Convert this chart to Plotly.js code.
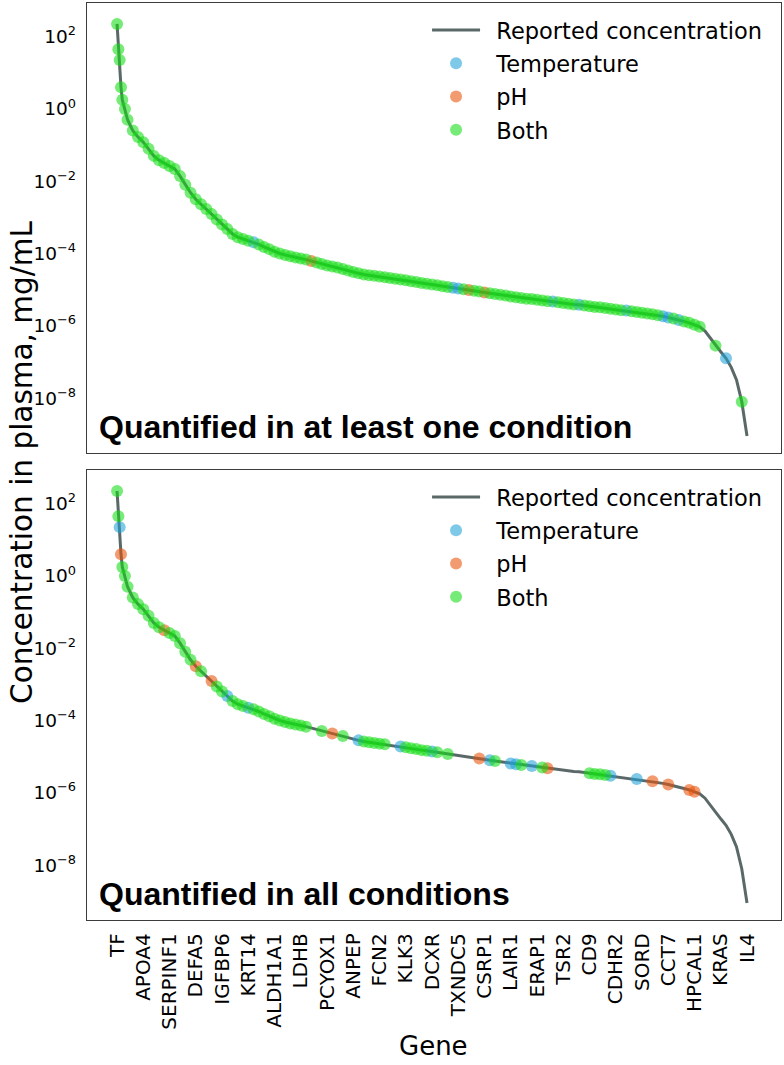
<!DOCTYPE html>
<html>
<head>
<meta charset="utf-8">
<script src="https://cdn.plot.ly/plotly-3.0.1.min.js"></script>
<style>html,body{margin:0;padding:0;background:#fff;}#chart{width:784px;height:1065px;}</style>
</head>
<body>
<div id="chart"></div>
<script>
// ---- DATA ----
// rank of the gene in the list sorted by reported plasma concentration
const geneRank = [0,1,2,3,4,6,8,12,16,20,24,28,32,36,40,44,48,52,56,60,64,68,72,76,80,84,88,92,96,100,
  104,108,112,116,120,124,128,132,136,140,144,148,152,156,160,164,168,172,176,180,184,188,192,196,200,
  204,208,212,216,220,224,228,232,236,240,244,248,252,256,260,264,268,272,276,280,284,288,292,296,300,
  304,308,312,316,320,324,328,332,336,340,344,348,352,356,360,364,368,372,376,380,384,388,392,396,400,
  404,408,412,416,420,424,428,432,436,440,444,448,452,456,460,464,468,472,476,480];
// log10 of reported concentration (mg/mL) at each rank
const log10Conc = [2.35,1.65,1.35,0.6,0.25,0.0,-0.3,-0.6,-0.78,-0.92,-1.1,-1.3,-1.42,-1.5,-1.58,-1.66,-1.86,-2.1,-2.32,-2.5,
  -2.64,-2.77,-2.91,-3.06,-3.2,-3.32,-3.46,-3.55,-3.6,-3.65,
  -3.69,-3.75,-3.82,-3.88,-3.95,-4.0,-4.04,-4.08,-4.11,-4.14,-4.17,-4.21,-4.25,-4.29,-4.33,-4.36,-4.39,-4.43,-4.47,-4.51,
  -4.55,-4.58,-4.6,-4.62,-4.64,-4.66,-4.68,-4.7,-4.72,-4.74,-4.77,-4.79,-4.82,-4.84,-4.86,-4.88,-4.91,-4.93,-4.95,-4.97,
  -4.99,-5.01,-5.03,-5.05,-5.08,-5.1,-5.12,-5.14,-5.16,-5.19,-5.21,-5.23,-5.25,-5.26,-5.28,-5.3,-5.32,-5.33,-5.35,-5.37,
  -5.39,-5.41,-5.42,-5.44,-5.46,-5.48,-5.49,-5.51,-5.53,-5.55,-5.57,-5.58,-5.6,-5.62,-5.64,-5.66,-5.68,-5.71,-5.74,-5.77,
  -5.8,-5.84,-5.88,-5.92,-5.97,-6.03,-6.15,-6.35,-6.55,-6.72,-6.9,-7.15,-7.5,-8.1,-9.05];

// tick labels (every 20th ranked gene)
const tickRanks = [0,20,40,60,80,100,120,140,160,180,200,220,240,260,280,300,320,340,360,380,400,420,440,460,480];
const tickGenes = ["TF","APOA4","SERPINF1","DEFA5","IGFBP6","KRT14","ALDH1A1","LDHB","PCYOX1","ANPEP","FCN2","KLK3",
  "DCXR","TXNDC5","CSRP1","LAIR1","ERAP1","TSR2","CD9","CDHR2","SORD","CCT7","HPCAL1","KRAS","IL4"];
const yExponents = [-8,-6,-4,-2,0,2];

// Panel 1: quantified in at least one condition (ranks of genes found stable)
const topTemperature = [104,256,260,332,352,388,416,420,428,464];
const topPH = [148,268,280];
const topBoth = [0,1,2,3,4,6,8,12,16,20,24,28,32,36,40,44,48,52,56,60,64,68,72,76,80,84,88,92,96,100,
  108,112,116,120,124,128,132,136,140,144,152,156,160,164,168,172,176,180,184,188,192,196,200,204,208,212,216,
  220,224,228,232,236,240,244,248,252,264,272,276,284,288,292,296,300,304,308,312,316,320,324,328,336,340,344,
  348,356,360,364,368,372,376,380,384,392,396,400,404,408,412,424,432,436,440,444,456,476];

// Panel 2: quantified in all conditions
const allTemperature = [2,84,100,184,216,240,284,300,304,316,376,396];
const allPH = [3,36,60,72,164,276,328,408,420,436,440];
const allBoth = [0,1,4,6,8,12,16,20,24,28,32,40,44,48,52,56,64,76,80,88,92,96,104,108,112,116,120,124,128,132,
  136,140,144,156,172,188,192,196,200,204,220,224,228,232,236,244,252,288,308,324,360,364,368,372];

const panelTitles = ["Quantified in at least one condition", "Quantified in all conditions"];
const seriesNames = ["Reported concentration", "Temperature", "pH", "Both"];

// ---- STYLE ----
const FONT = "DejaVu Sans, Verdana, sans-serif";
const lineColor = "#5a6868";
const colTemp = "#20a0d8", colPH = "#ea5208", colBoth = "#14dc14";
const PAD = "\u2002"; // small gap between legend symbol and label

const concOf = r => Math.pow(10, log10Conc[geneRank.indexOf(r)]);

function panelTraces(xa, ya, leg, temp, ph, both, gid) {
  const mk = (ranks, name, color) => ({
    type: "scatter", mode: "markers", name: PAD + name, x: ranks, y: ranks.map(concOf),
    xaxis: xa, yaxis: ya, legend: leg, legendgroup: gid + name,
    marker: {size: 12, color: color, opacity: 0.58, line: {width: 0}},
    hoverinfo: "skip"
  });
  return [
    {type: "scatter", mode: "lines", name: PAD + seriesNames[0], x: geneRank, y: log10Conc.map(v => Math.pow(10, v)),
     xaxis: xa, yaxis: ya, legend: leg, legendgroup: gid + "line",
     line: {color: lineColor, width: 3}, hoverinfo: "skip"},
    mk(temp, seriesNames[1], colTemp),
    mk(ph, seriesNames[2], colPH),
    mk(both, seriesNames[3], colBoth)
  ];
}

const data = [].concat(
  panelTraces("x", "y", "legend", topTemperature, topPH, topBoth, "a"),
  panelTraces("x2", "y2", "legend2", allTemperature, allPH, allBoth, "b")
);

const yTickVals = yExponents.map(e => Math.pow(10, e));
const yTickText = yExponents.map(e => "10<sup>" + (e < 0 ? "\u2212" + (-e) : e) + "</sup>");

const xRange = [-22.9, 505.9];
const yRange = [-9.52, 2.93];
const border = {showline: true, mirror: true, linecolor: "#3c3c3c", linewidth: 1.3, showgrid: false, zeroline: false};

function yax(domain) {
  return Object.assign({}, border, {
    domain: domain, type: "log", range: yRange, tickmode: "array", tickvals: yTickVals, ticktext: yTickText,
    ticks: "", ticklabelstandoff: 6, tickfont: {family: FONT, size: 18.5, color: "#000"}
  });
}
function legendOpts(y) {
  return {x: 0.49, y: y, xanchor: "left", yanchor: "top", bgcolor: "rgba(0,0,0,0)", borderwidth: 0,
    font: {family: FONT, size: 22.5, color: "#000"}, itemwidth: 48, traceorder: "grouped", tracegroupgap: 1};
}

const layout = {
  width: 784, height: 1065,
  margin: {l: 87, r: 3, t: 3, b: 145},
  paper_bgcolor: "#fff", plot_bgcolor: "#fff",
  showlegend: true,
  xaxis: Object.assign({}, border, {domain: [0, 1], anchor: "y", range: xRange, showticklabels: false, ticks: ""}),
  yaxis: yax([0.5093, 1]),
  xaxis2: Object.assign({}, border, {domain: [0, 1], anchor: "y2", range: xRange, ticks: "",
    tickmode: "array", tickvals: tickRanks, ticktext: tickGenes, tickangle: -90, ticklabelstandoff: 4,
    tickfont: {family: FONT, size: 20, color: "#000"}}),
  yaxis2: yax([0, 0.4907]),
  legend: legendOpts(0.9935),
  legend2: legendOpts(0.4842),
  annotations: [
    {text: "<b>" + panelTitles[0] + "</b>", xref: "paper", yref: "paper", x: 0.0144, y: 0.5376,
     xanchor: "left", yanchor: "middle", showarrow: false,
     font: {family: "Liberation Sans, Arial, sans-serif", size: 32, color: "#000"}},
    {text: "<b>" + panelTitles[1] + "</b>", xref: "paper", yref: "paper", x: 0.0144, y: 0.0284,
     xanchor: "left", yanchor: "middle", showarrow: false,
     font: {family: "Liberation Sans, Arial, sans-serif", size: 32, color: "#000"}},
    {text: "Concentration in plasma, mg/mL", xref: "paper", yref: "paper", x: -0.0937, y: 0.4995,
     xanchor: "center", yanchor: "middle", textangle: -90, showarrow: false,
     font: {family: FONT, size: 29.5, color: "#000"}},
    {text: "Gene", xref: "paper", yref: "paper", x: 0.4986, y: -0.1560,
     xanchor: "center", yanchor: "bottom", showarrow: false,
     font: {family: FONT, size: 26, color: "#000"}}
  ]
};

Plotly.newPlot("chart", data, layout, {displayModeBar: false, staticPlot: true});
</script>
</body>
</html>
